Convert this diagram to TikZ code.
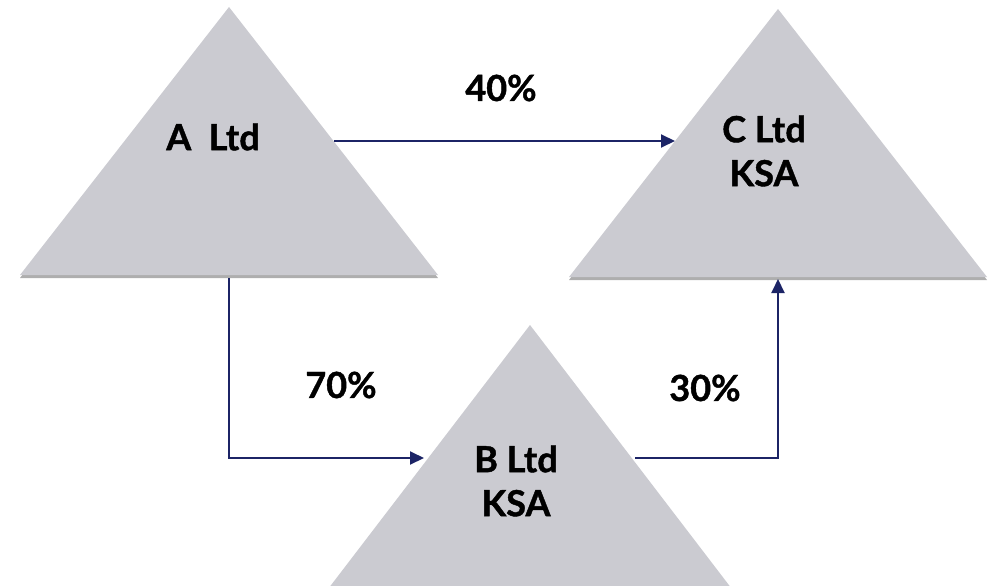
\documentclass[tikz,border=0pt]{standalone}
\usepackage{fontspec}
\setmainfont{Lato}[BoldFont={* Bold},BoldFeatures={FakeBold=1.2}]
\usetikzlibrary{arrows.meta,shadows}
\definecolor{trifill}{HTML}{CBCBD1}
\definecolor{navy}{HTML}{1C2466}
\tikzset{
  tri/.style={fill=trifill, drop shadow={shadow xshift=0pt, shadow yshift=-3pt, opacity=0.45, fill=black!70}},
  lbl/.style={font=\fontsize{36}{44}\selectfont\bfseries, text=black, align=center, inner sep=0pt},
  link/.style={draw=navy, line width=2pt, -{Triangle[length=14pt,width=13pt]}}
}
\begin{document}
\begin{tikzpicture}[x=1pt,y=-1pt]
\useasboundingbox (0,0) rectangle (988,586);
% triangles
\path[tri] (229,7) -- (20,275) -- (438,275) -- cycle;
\path[tri] (778,9) -- (569,277) -- (987,277) -- cycle;
\path[tri] (530,325) -- (312,610) -- (748,610) -- cycle;
% labels
\node[lbl] (A) at (213,137) {A\ \ Ltd};
\node[lbl] (C) at (764,151) {C Ltd\\KSA};
\node[lbl] (B) at (516,481) {B Ltd\\KSA};
\node[lbl] (p40) at (501,88) {40\%};
\node[lbl] (p70) at (341,385) {70\%};
\node[lbl] (p30) at (705,388) {30\%};
% connector ends on triangle edges
\coordinate (Aright) at (334,141);
\coordinate (Cleft) at (675,141);
\coordinate (Abase) at (229,278);
\coordinate (Bleft) at (424,458);
\coordinate (Bright) at (635,458);
\coordinate (Cbase) at (778,279);
% connectors
\draw[link] (Aright) -- (Cleft);
\draw[link] (Abase) |- (Bleft);
\draw[link] (Bright) -| (Cbase);
\end{tikzpicture}
\end{document}
